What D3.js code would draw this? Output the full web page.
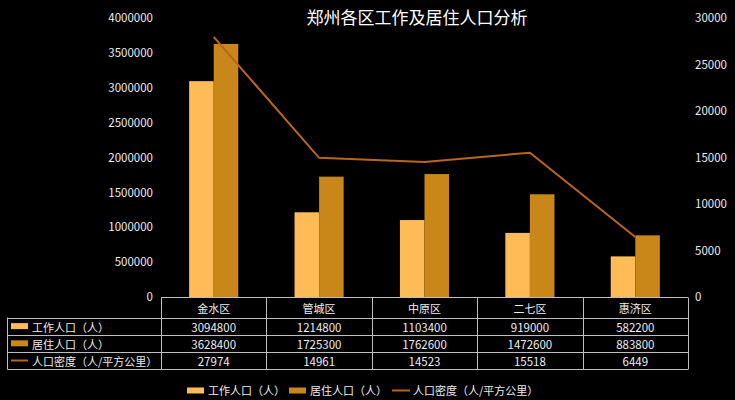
<!DOCTYPE html>
<html>
<head>
<meta charset="utf-8">
<script src="https://cdn.jsdelivr.net/npm/d3@7/dist/d3.min.js"></script>
<style>
  html, body { margin: 0; padding: 0; background: #000; }
  svg { display: block; }
  text { font-family: "Microsoft YaHei", "Noto Sans CJK SC", sans-serif; }
</style>
</head>
<body>
<svg id="chart" width="735" height="400"></svg>
<script>
const title = "郑州各区工作及居住人口分析";
const categories = ["金水区", "管城区", "中原区", "二七区", "惠济区"];
const workPop = [3094800, 1214800, 1103400, 919000, 582200];
const residentPop = [3628400, 1725300, 1762600, 1472600, 883800];
const density = [27974, 14961, 14523, 15518, 6449];
const seriesNames = ["工作人口（人）", "居住人口（人）", "人口密度（人/平方公里）"];
const leftTicks = [0, 500000, 1000000, 1500000, 2000000, 2500000, 3000000, 3500000, 4000000];
const rightTicks = [0, 5000, 10000, 15000, 20000, 25000, 30000];

const colors = { work: "#FFBB55", res: "#C9871A", line: "#B8661D", text: "#EDEDED", grid: "#BFBFBF" };

const svg = d3.select("#chart");
const W = 735, H = 400;
const plot = { left: 161, right: 688, top: 18, bottom: 297 };

svg.append("rect").attr("width", W).attr("height", H).attr("fill", "#000");

const x = d3.scaleBand().domain(categories).range([plot.left, plot.right]).padding(0);
const bw = x.bandwidth();
const groupW = bw * 0.466;
const xi = d3.scaleBand().domain(["work", "res"]).range([(bw - groupW) / 2, (bw + groupW) / 2]).padding(0);
const yL = d3.scaleLinear().domain([0, 4000000]).range([plot.bottom, plot.top]);
const yR = d3.scaleLinear().domain([0, 30000]).range([plot.bottom, plot.top]);

// Title
svg.append("text").attr("x", 417).attr("y", 24).attr("text-anchor", "middle")
  .attr("fill", "#fff").attr("font-size", 17).text(title);

// Left axis
const axL = svg.append("g").attr("transform", `translate(${plot.left - 1},0)`)
  .call(d3.axisLeft(yL).tickValues(leftTicks).tickSize(0).tickPadding(7).tickFormat(d3.format("d")));
axL.select(".domain").remove();
axL.selectAll("text").attr("fill", colors.text).attr("font-size", 11.5);

// Right axis
const axR = svg.append("g").attr("transform", `translate(${plot.right},0)`)
  .call(d3.axisRight(yR).tickValues(rightTicks).tickSize(0).tickPadding(7).tickFormat(d3.format("d")));
axR.select(".domain").remove();
axR.selectAll("text").attr("fill", colors.text).attr("font-size", 11.5);

// Bars
const groups = svg.append("g").selectAll("g").data(categories).join("g")
  .attr("transform", d => `translate(${x(d)},0)`);
groups.append("rect")
  .attr("x", xi("work")).attr("width", xi.bandwidth())
  .attr("y", (d, i) => yL(workPop[i])).attr("height", (d, i) => yL(0) - yL(workPop[i]))
  .attr("fill", colors.work);
groups.append("rect")
  .attr("x", xi("res")).attr("width", xi.bandwidth())
  .attr("y", (d, i) => yL(residentPop[i])).attr("height", (d, i) => yL(0) - yL(residentPop[i]))
  .attr("fill", colors.res);

// Line
const line = d3.line().x((d, i) => x(categories[i]) + bw / 2).y(d => yR(d));
svg.append("path").datum(density).attr("d", line)
  .attr("fill", "none").attr("stroke", colors.line).attr("stroke-width", 2);

// Data table
const tbl = svg.append("g");
const headerBottom = 317.5;
const rowH = 17.2;
const tableLeft = 7.5;
const rows = [workPop, residentPop, density];
const tableBottom = headerBottom + rowH * rows.length;
const lineAttr = s => s.attr("stroke", colors.grid).attr("stroke-width", 1).attr("fill", "none");

// top border over categories
tbl.append("line").attr("x1", plot.left).attr("x2", plot.right).attr("y1", plot.bottom + 0.5).attr("y2", plot.bottom + 0.5).call(lineAttr);
// horizontal lines
for (let r = 0; r <= rows.length; r++) {
  const yy = Math.round(headerBottom + r * rowH) + 0.5;
  tbl.append("line").attr("x1", tableLeft).attr("x2", plot.right).attr("y1", yy).attr("y2", yy).call(lineAttr);
}
// vertical lines
tbl.append("line").attr("x1", tableLeft).attr("x2", tableLeft).attr("y1", headerBottom).attr("y2", Math.round(tableBottom) + 0.5).call(lineAttr);
categories.concat([null]).forEach((c, i) => {
  const xx = Math.round(c ? x(c) : plot.right) + 0.5;
  tbl.append("line").attr("x1", xx).attr("x2", xx).attr("y1", plot.bottom + 0.5).attr("y2", Math.round(tableBottom) + 0.5).call(lineAttr);
});
// header text
categories.forEach(c => {
  tbl.append("text").attr("x", x(c) + bw / 2).attr("y", (plot.bottom + headerBottom) / 2 + 1)
    .attr("text-anchor", "middle").attr("dominant-baseline", "central")
    .attr("fill", colors.text).attr("font-size", 11).text(c);
});
// rows
const keyColors = [colors.work, colors.res, colors.line];
rows.forEach((vals, r) => {
  const cy = headerBottom + r * rowH + rowH / 2;
  if (r < 2) {
    tbl.append("rect").attr("x", 11).attr("y", cy - 3).attr("width", 17).attr("height", 6).attr("fill", keyColors[r]);
  } else {
    tbl.append("line").attr("x1", 11).attr("x2", 28).attr("y1", cy).attr("y2", cy)
      .attr("stroke", keyColors[r]).attr("stroke-width", 2);
  }
  tbl.append("text").attr("x", 32).attr("y", cy + 0.5).attr("dominant-baseline", "central")
    .attr("fill", colors.text).attr("font-size", 11).text(seriesNames[r]);
  vals.forEach((v, i) => {
    tbl.append("text").attr("x", x(categories[i]) + bw / 2).attr("y", cy + 0.5)
      .attr("text-anchor", "middle").attr("dominant-baseline", "central")
      .attr("fill", colors.text).attr("font-size", 11.5).text(v);
  });
});

// Legend
const leg = svg.append("g");
const legY = 390;
const legItems = [
  { x: 187, type: "rect", color: colors.work, name: seriesNames[0] },
  { x: 289, type: "rect", color: colors.res, name: seriesNames[1] },
  { x: 392, type: "line", color: colors.line, name: seriesNames[2] }
];
legItems.forEach(it => {
  if (it.type === "rect") {
    leg.append("rect").attr("x", it.x).attr("y", legY - 2.5).attr("width", 17).attr("height", 6).attr("fill", it.color);
  } else {
    leg.append("line").attr("x1", it.x).attr("x2", it.x + 18).attr("y1", legY + 0.5).attr("y2", legY + 0.5)
      .attr("stroke", it.color).attr("stroke-width", 2);
  }
  leg.append("text").attr("x", it.x + 21).attr("y", legY).attr("dominant-baseline", "central")
    .attr("fill", colors.text).attr("font-size", 11).text(it.name);
});
</script>
</body>
</html>
